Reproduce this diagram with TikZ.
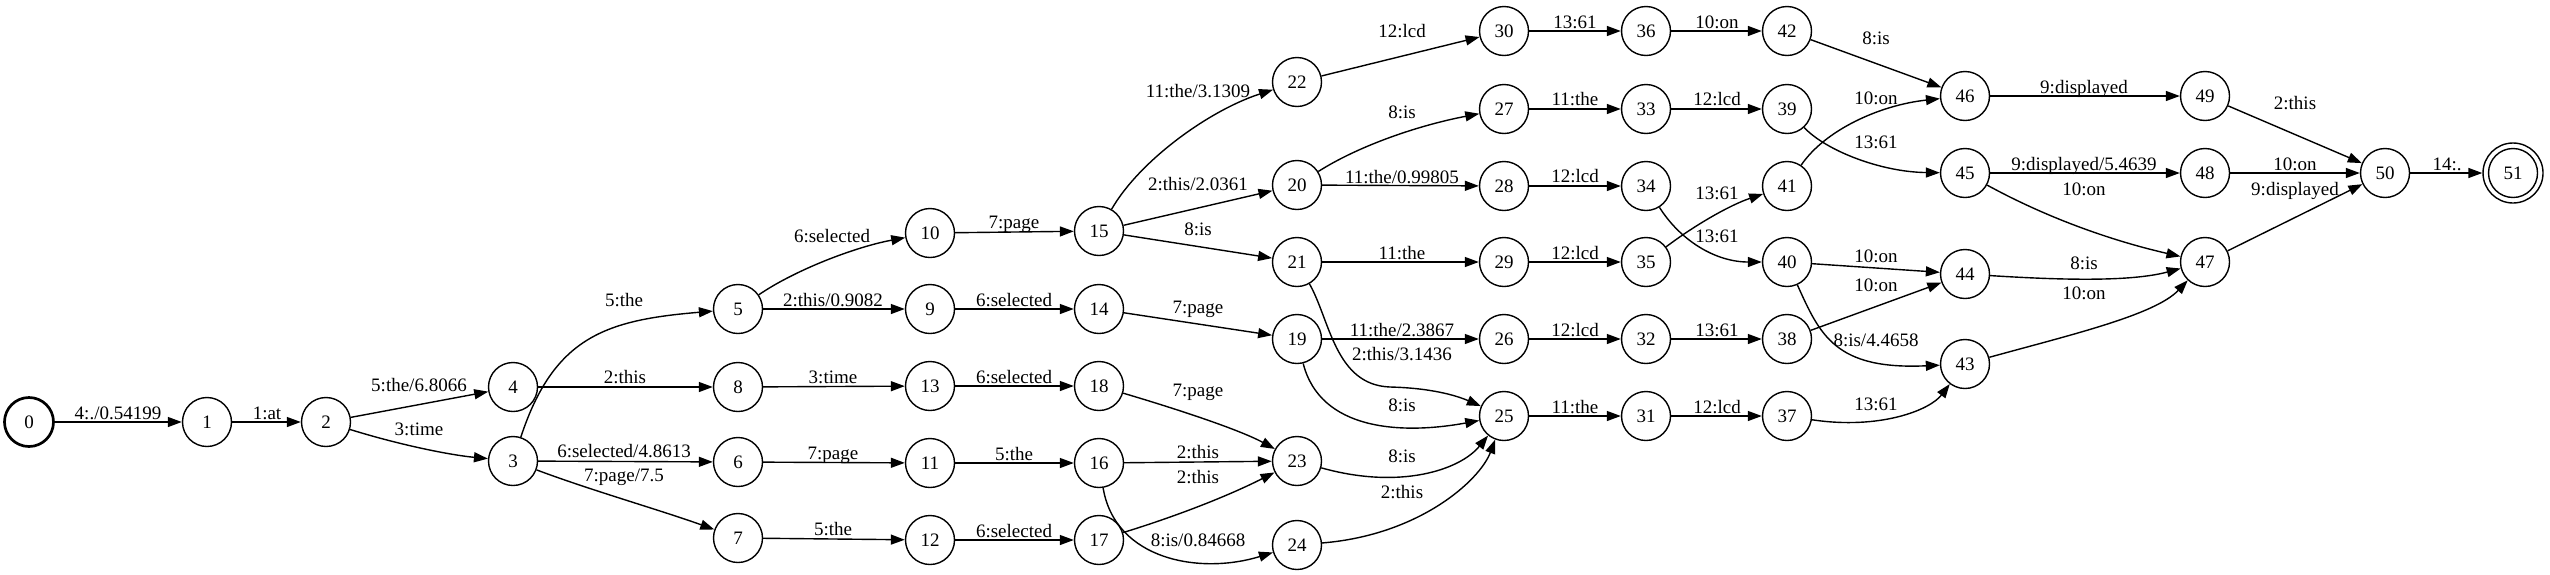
\documentclass[tikz,border=0pt]{standalone}
\usepackage{fontspec}
\setmainfont{Liberation Serif}
\usetikzlibrary{arrows.meta}
\begin{document}
\begin{tikzpicture}[x=1pt,y=-1pt,
  every node/.style={font=\fontsize{19}{22}\selectfont},
  state/.style={circle,draw,line width=1.4pt,minimum size=49pt,inner sep=0pt},
  edge/.style={line width=1.4pt,-{Triangle[length=14pt,width=10pt]}},
  lbl/.style={inner sep=0pt,text height=13pt,text depth=0pt}]
\useasboundingbox (0,0) rectangle (2550,574);
% states
\node[state,line width=2.7pt] (n0) at (29,422) {0};
\node[state] (n1) at (207,422) {1};
\node[state] (n2) at (326,422) {2};
\node[state] (n4) at (513,387) {4};
\node[state] (n3) at (513,461) {3};
\node[state] (n5) at (738,309) {5};
\node[state] (n8) at (738,387) {8};
\node[state] (n6) at (738,462) {6};
\node[state] (n7) at (738,538) {7};
\node[state] (n10) at (930,233) {10};
\node[state] (n9) at (930,309) {9};
\node[state] (n13) at (930,386) {13};
\node[state] (n11) at (930,463) {11};
\node[state] (n12) at (930,540) {12};
\node[state] (n15) at (1099,231) {15};
\node[state] (n14) at (1099,309) {14};
\node[state] (n18) at (1099,386) {18};
\node[state] (n16) at (1099,463) {16};
\node[state] (n17) at (1099,540) {17};
\node[state] (n22) at (1297,82) {22};
\node[state] (n20) at (1297,185) {20};
\node[state] (n21) at (1297,262) {21};
\node[state] (n19) at (1297,339) {19};
\node[state] (n23) at (1297,461) {23};
\node[state] (n24) at (1297,545) {24};
\node[state] (n30) at (1504,31) {30};
\node[state] (n27) at (1504,109) {27};
\node[state] (n28) at (1504,186) {28};
\node[state] (n29) at (1504,262) {29};
\node[state] (n26) at (1504,339) {26};
\node[state] (n25) at (1504,416) {25};
\node[state] (n36) at (1646,31) {36};
\node[state] (n33) at (1646,109) {33};
\node[state] (n34) at (1646,186) {34};
\node[state] (n35) at (1646,262) {35};
\node[state] (n32) at (1646,339) {32};
\node[state] (n31) at (1646,416) {31};
\node[state] (n42) at (1787,31) {42};
\node[state] (n39) at (1787,109) {39};
\node[state] (n41) at (1787,186) {41};
\node[state] (n40) at (1787,262) {40};
\node[state] (n38) at (1787,339) {38};
\node[state] (n37) at (1787,416) {37};
\node[state] (n46) at (1965,96) {46};
\node[state] (n45) at (1965,173) {45};
\node[state] (n44) at (1965,274) {44};
\node[state] (n43) at (1965,364) {43};
\node[state] (n49) at (2205,96) {49};
\node[state] (n48) at (2205,173) {48};
\node[state] (n47) at (2205,262) {47};
\node[state] (n50) at (2385,173) {50};
\node[state,minimum size=60pt] (n51) at (2513,173) {51};
\draw[line width=1.4pt] (n51.center) circle[radius=24.5pt];
% edges
\draw[edge] (n0) -- (n1) node[lbl] (t0) at (118,413) {4:./0.54199};
\draw[edge] (n1) -- (n2) node[lbl] (t1) at (267,413) {1:at};
\draw[edge] (n2) -- (n4) node[lbl] (t2) at (419,385) {5:the/6.8066};
\draw[edge] (n2) .. controls (400,445) and (450,455) .. (n3) node[lbl] (t3) at (419,429) {3:time};
\draw[edge] (n3) .. controls (554,336) and (607,320) .. (n5) node[lbl] (t4) at (624,300) {5:the};
\draw[edge] (n4) -- (n8) node[lbl] (t5) at (625,377) {2:this};
\draw[edge] (n3) -- (n6) node[lbl] (t6) at (624,451) {6:selected/4.8613};
\draw[edge] (n3) .. controls (590,490) and (660,510) .. (n7) node[lbl] (t7) at (624,475) {7:page/7.5};
\draw[edge] (n5) .. controls (795,270) and (855,247) .. (n10) node[lbl] (t8) at (832,236) {6:selected};
\draw[edge] (n5) -- (n9) node[lbl] (t9) at (833,300) {2:this/0.9082};
\draw[edge] (n8) -- (n13) node[lbl] (t10) at (833,377) {3:time};
\draw[edge] (n6) -- (n11) node[lbl] (t11) at (833,453) {7:page};
\draw[edge] (n7) -- (n12) node[lbl] (t12) at (833,529) {5:the};
\draw[edge] (n10) -- (n15) node[lbl] (t13) at (1014,222) {7:page};
\draw[edge] (n9) -- (n14) node[lbl] (t14) at (1014,300) {6:selected};
\draw[edge] (n13) -- (n18) node[lbl] (t15) at (1014,377) {6:selected};
\draw[edge] (n11) -- (n16) node[lbl] (t16) at (1014,454) {5:the};
\draw[edge] (n12) -- (n17) node[lbl] (t17) at (1014,531) {6:selected};
\draw[edge] (n15) .. controls (1140,160) and (1210,110) .. (n22) node[lbl] (t18) at (1198,91) {11:the/3.1309};
\draw[edge] (n15) -- (n20) node[lbl] (t19) at (1198,184) {2:this/2.0361};
\draw[edge] (n15) -- (n21) node[lbl] (t20) at (1198,229) {8:is};
\draw[edge] (n14) -- (n19) node[lbl] (t21) at (1198,307) {7:page};
\draw[edge] (n18) .. controls (1180,410) and (1240,430) .. (n23) node[lbl] (t22) at (1198,390) {7:page};
\draw[edge] (n16) -- (n23) node[lbl] (t23) at (1198,452) {2:this};
\draw[edge] (n17) .. controls (1180,515) and (1230,495) .. (n23) node[lbl] (t24) at (1198,477) {2:this};
\draw[edge] (n16) .. controls (1115,560) and (1200,575) .. (n24) node[lbl] (t25) at (1198,540) {8:is/0.84668};
\draw[edge] (n22) -- (n30) node[lbl] (t26) at (1402,31) {12:lcd};
\draw[edge] (n20) .. controls (1360,145) and (1420,125) .. (n27) node[lbl] (t27) at (1402,112) {8:is};
\draw[edge] (n20) -- (n28) node[lbl] (t28) at (1402,177) {11:the/0.99805};
\draw[edge] (n21) -- (n29) node[lbl] (t29) at (1402,253) {11:the};
\draw[edge] (n19) -- (n26) node[lbl] (t30) at (1402,330) {11:the/2.3867};
\draw[edge] (n21) .. controls (1330,320) and (1335,385) .. (1390,387) .. controls (1430,388) and (1455,395) .. (n25) node[lbl] (t31) at (1402,354) {2:this/3.1436};
\draw[edge] (n19) .. controls (1320,430) and (1400,435) .. (n25) node[lbl] (t32) at (1402,405) {8:is};
\draw[edge] (n23) .. controls (1400,490) and (1460,470) .. (n25) node[lbl] (t33) at (1402,456) {8:is};
\draw[edge] (n24) .. controls (1420,535) and (1480,480) .. (n25) node[lbl] (t34) at (1402,492) {2:this};
\draw[edge] (n30) -- (n36) node[lbl] (t35) at (1575,22) {13:61};
\draw[edge] (n27) -- (n33) node[lbl] (t36) at (1575,99) {11:the};
\draw[edge] (n28) -- (n34) node[lbl] (t37) at (1575,176) {12:lcd};
\draw[edge] (n29) -- (n35) node[lbl] (t38) at (1575,253) {12:lcd};
\draw[edge] (n26) -- (n32) node[lbl] (t39) at (1575,330) {12:lcd};
\draw[edge] (n25) -- (n31) node[lbl] (t40) at (1575,407) {11:the};
\draw[edge] (n36) -- (n42) node[lbl] (t41) at (1717,22) {10:on};
\draw[edge] (n33) -- (n39) node[lbl] (t42) at (1717,99) {12:lcd};
\draw[edge] (n35) .. controls (1695,225) and (1730,205) .. (n41) node[lbl] (t43) at (1717,193) {13:61};
\draw[edge] (n34) .. controls (1680,240) and (1715,262) .. (n40) node[lbl] (t44) at (1717,236) {13:61};
\draw[edge] (n32) -- (n38) node[lbl] (t45) at (1717,330) {13:61};
\draw[edge] (n31) -- (n37) node[lbl] (t46) at (1717,407) {12:lcd};
\draw[edge] (n42) -- (n46) node[lbl] (t47) at (1876,38) {8:is};
\draw[edge] (n41) .. controls (1825,130) and (1880,105) .. (n46) node[lbl] (t48) at (1876,98) {10:on};
\draw[edge] (n39) .. controls (1825,150) and (1880,172) .. (n45) node[lbl] (t49) at (1876,142) {13:61};
\draw[edge] (n40) -- (n44) node[lbl] (t50) at (1876,256) {10:on};
\draw[edge] (n38) -- (n44) node[lbl] (t51) at (1876,285) {10:on};
\draw[edge] (n40) .. controls (1820,335) and (1835,370) .. (n43) node[lbl] (t52) at (1876,340) {8:is/4.4658};
\draw[edge] (n37) .. controls (1880,430) and (1930,410) .. (n43) node[lbl] (t53) at (1876,404) {13:61};
\draw[edge] (n46) -- (n49) node[lbl] (t54) at (2084,87) {9:displayed};
\draw[edge] (n45) -- (n48) node[lbl] (t55) at (2084,164) {9:displayed/5.4639};
\draw[edge] (n45) .. controls (2060,225) and (2130,245) .. (n47) node[lbl] (t56) at (2084,189) {10:on};
\draw[edge] (n44) .. controls (2060,280) and (2130,282) .. (n47) node[lbl] (t57) at (2084,263) {8:is};
\draw[edge] (n43) .. controls (2070,335) and (2155,315) .. (n47) node[lbl] (t58) at (2084,293) {10:on};
\draw[edge] (n49) -- (n50) node[lbl] (t59) at (2295,103) {2:this};
\draw[edge] (n48) -- (n50) node[lbl] (t60) at (2295,164) {10:on};
\draw[edge] (n47) -- (n50) node[lbl] (t61) at (2295,189) {9:displayed};
\draw[edge] (n50) -- (n51) node[lbl] (t62) at (2447,164) {14:.};
\end{tikzpicture}
\end{document}
